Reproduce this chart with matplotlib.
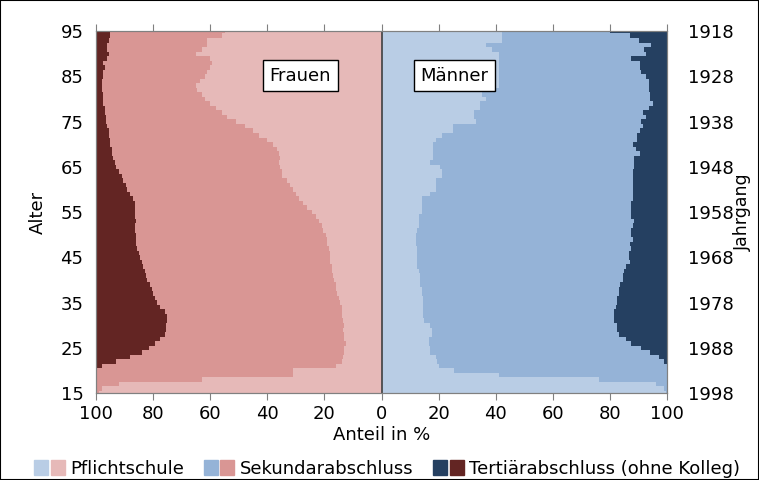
import numpy as np
import matplotlib
matplotlib.use("Agg")
import matplotlib.pyplot as plt
from matplotlib.patches import Patch, Rectangle
from matplotlib.legend_handler import HandlerTuple

plt.rcParams['font.family'] = ['DejaVu Sans']

ages = np.arange(15, 96)

# Frauen: Anteile in % je Alter (15 ... 95)
w_pflicht = [99, 98, 92, 63, 31, 31, 16, 14, 13.5, 13, 13, 12.5, 13, 13, 13.5, 13,
             13.5, 14, 14, 14, 14.5, 15, 15.5, 16, 16, 16.5, 17, 17.5, 17.5, 18,
             18, 18, 18.5, 19, 19, 19.5, 20.5, 21, 22, 23, 24.5, 26, 27.5, 29, 30,
             31, 32, 33, 35, 35, 35.5, 36, 35.5, 36, 36.5, 38, 40, 43, 45, 48,
             51, 54, 56, 58, 60, 62, 63, 64.5, 65, 63.5, 62, 61, 60, 59.5, 60,
             65, 63, 61, 61, 56, 55]
w_tertiaer = [0, 0, 0, 0, 0, 0.5, 2, 7, 12, 16, 18.5, 20.5, 22.5, 24, 24.5, 24.5,
              25, 25, 24, 22.5, 21.5, 20.5, 20, 19.5, 19, 18, 17.5, 17, 16.5, 16,
              15.5, 15, 14.5, 14, 14, 14, 13.5, 13.5, 14, 13.5, 13.5, 13.5, 13.5, 13, 12,
              11, 10.5, 9.5, 9, 8, 7, 6.5, 6, 5.5, 5.5, 5, 5, 4.5, 4.5, 4,
              3.5, 3.5, 3, 3, 2.5, 2.5, 2.5, 2, 2, 2, 2.5, 2.5, 3, 2.5, 4,
              4.5, 4, 4, 4.5, 5, 5]

# Männer
m_pflicht = [99.5, 99, 96, 76, 41, 25.5, 20, 19.5, 19, 17, 17, 16.5, 16.5, 17.5, 17.5, 17,
             15, 14.5, 14.5, 14.5, 14.5, 14.5, 14, 14, 13.5, 13.5, 13.5, 13, 12.5, 12.5,
             12.5, 12.5, 12.5, 12, 12, 12, 12.5, 13, 13, 13, 14, 14, 14, 14, 17,
             19, 19, 19, 21, 21, 20.5, 17, 18, 18, 18, 18, 19, 21, 25, 25,
             33, 32.5, 32.5, 34.5, 34.5, 36.5, 35, 35, 41, 41, 41, 41, 41, 41, 41,
             41, 38.5, 36.5, 42, 42, 42]
m_tertiaer = [0, 0, 0, 0, 0, 0, 0, 1, 3, 6, 9, 12.5, 14.5, 17, 17.5, 17.5,
              18.5, 18.5, 18.5, 18, 17.5, 17.5, 17, 17, 16.5, 15.5, 15.5, 15, 14.5, 13,
              13.5, 13.5, 12.5, 13, 12, 12.5, 12.5, 12, 11.5, 12.5, 12.5, 12.5, 12.5, 12, 12,
              12, 12, 12, 12, 12, 11.5, 11.5, 11.5, 9.5, 11, 12, 10.5, 10.5, 9.5, 8.5,
              9, 7.5, 8.5, 6.5, 5, 6, 6, 6.5, 6.5, 6.5, 7.5, 9, 9.5, 9.5, 12.5,
              7.5, 8, 5.5, 10, 13, 20]

xticks = [-100, -80, -60, -40, -20, 0, 20, 40, 60, 80, 100]
yticks = [15, 25, 35, 45, 55, 65, 75, 85, 95]
survey_year = 2013

w_col = ['#E6B9B8', '#D99694', '#632523']
m_col = ['#B9CDE5', '#95B3D7', '#254061']

w_p = np.array(w_pflicht)
w_t = np.array(w_tertiaer)
w_s = 100 - w_p - w_t
m_p = np.array(m_pflicht)
m_t = np.array(m_tertiaer)
m_s = 100 - m_p - m_t

fig = plt.figure(figsize=(7.59, 4.8), dpi=100)
ax = fig.add_axes([0.1265, 0.181, 0.7525, 0.754])

kw = dict(height=1.0, linewidth=0, antialiased=False)
ax.barh(ages, -w_p, left=0, color=w_col[0], **kw)
ax.barh(ages, -w_s, left=-w_p, color=w_col[1], **kw)
ax.barh(ages, -w_t, left=-(w_p + w_s), color=w_col[2], **kw)
ax.barh(ages, m_p, left=0, color=m_col[0], **kw)
ax.barh(ages, m_s, left=m_p, color=m_col[1], **kw)
ax.barh(ages, m_t, left=m_p + m_s, color=m_col[2], **kw)
ax.axvline(0, color='#404040', lw=1.2)

ax.set_xlim(-100, 100)
ax.set_ylim(15, 95)
ax.set_xticks(xticks)
ax.set_xticklabels([str(abs(v)) for v in xticks])
ax.set_yticks(yticks)
ax.tick_params(axis='both', labelsize=13, colors='#000000', length=0)
ax.tick_params(axis='y', pad=9)
ax.tick_params(axis='x', length=5, color='#808080', top=True, direction='out')
for s in ax.spines.values():
    s.set_color('#808080')
ax.set_xlabel('Anteil in %', fontsize=13, labelpad=2)
ax.set_ylabel('Alter', fontsize=13, labelpad=10)

ax2 = ax.twinx()
ax2.set_ylim(15, 95)
ax2.set_yticks(yticks)
ax2.set_yticklabels([str(survey_year - a) for a in yticks])
ax2.tick_params(labelsize=13, length=0, pad=15)
for s in ax2.spines.values():
    s.set_color('#808080')
ax2.set_ylabel('Jahrgang', fontsize=12.5, labelpad=0)

box = dict(boxstyle='square,pad=0.35', fc='white', ec='black', lw=1)
ax.text(-28.4, 85.2, 'Frauen', fontsize=13, ha='center', va='center', bbox=box)
ax.text(25.6, 85.2, 'Männer', fontsize=13, ha='center', va='center', bbox=box)

handles = [(Patch(color=m_col[i]), Patch(color=w_col[i])) for i in range(3)]
labels = ['Pflichtschule', 'Sekundarabschluss', 'Tertiärabschluss (ohne Kolleg)']
fig.legend(handles, labels, loc='lower center', bbox_to_anchor=(0.51, -0.03), ncol=3,
           frameon=False, fontsize=13, handlelength=1.7, handleheight=0.9,
           handletextpad=0.3, columnspacing=1.1,
           handler_map={tuple: HandlerTuple(ndivide=None, pad=0.15)})

fig.patches.append(Rectangle((0, 0), 1, 1, transform=fig.transFigure,
                             fill=False, ec='black', lw=1.5))

fig.savefig('out.png', dpi=100)
